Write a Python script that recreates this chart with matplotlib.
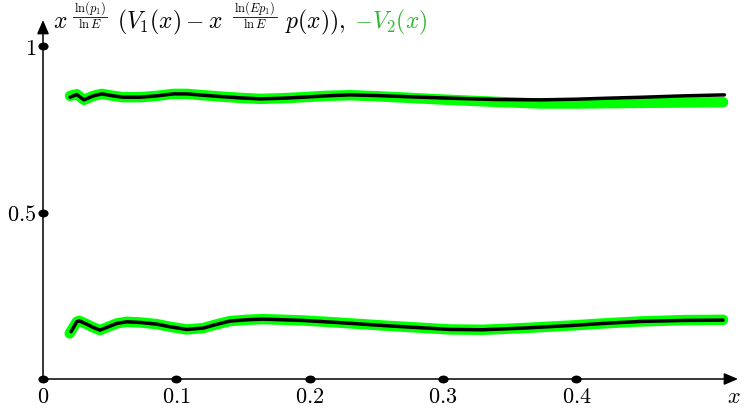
import matplotlib
matplotlib.use("Agg")
import matplotlib.pyplot as plt
from matplotlib.lines import Line2D
from matplotlib.path import Path
from matplotlib.transforms import Affine2D

plt.rcParams['mathtext.fontset'] = 'cm'
plt.rcParams['font.family'] = 'serif'
plt.rcParams['font.serif'] = ['DejaVu Serif']

# ---- data ----
upper_black_x = [0.0203, 0.0253, 0.0307, 0.0377, 0.044, 0.0528, 0.0602, 0.0727, 0.0853, 0.0977,
                 0.1077, 0.120, 0.133, 0.148, 0.163, 0.180, 0.195, 0.212, 0.230, 0.250, 0.270,
                 0.305, 0.340, 0.373, 0.400, 0.423, 0.450, 0.480, 0.511]
upper_black_y = [0.847, 0.855, 0.839, 0.851, 0.857, 0.851, 0.847, 0.847, 0.851, 0.857,
                 0.857, 0.853, 0.849, 0.845, 0.842, 0.844, 0.847, 0.851, 0.854, 0.852, 0.849,
                 0.844, 0.840, 0.839, 0.841, 0.844, 0.847, 0.851, 0.854]

upper_green_x = [0.0203, 0.0253, 0.0307, 0.0377, 0.044, 0.0528, 0.0602, 0.0727, 0.0853, 0.0977,
                 0.1077, 0.120, 0.133, 0.148, 0.163, 0.180, 0.195, 0.212, 0.230, 0.250, 0.270,
                 0.305, 0.340, 0.373, 0.400, 0.423, 0.450, 0.480, 0.510]
upper_green_y = [0.851, 0.856, 0.839, 0.851, 0.857, 0.851, 0.847, 0.847, 0.851, 0.857,
                 0.857, 0.853, 0.849, 0.845, 0.842, 0.844, 0.847, 0.851, 0.853, 0.850, 0.846,
                 0.839, 0.833, 0.828, 0.828, 0.829, 0.830, 0.831, 0.832]

lower_black_x = [0.021, 0.0253, 0.0272, 0.0327, 0.0377, 0.0427, 0.049, 0.0553, 0.0628, 0.0727,
                 0.0853, 0.0952, 0.1077, 0.120, 0.130, 0.140, 0.1527, 0.165, 0.195, 0.220,
                 0.258, 0.305, 0.330, 0.360, 0.397, 0.420, 0.448, 0.480, 0.510]
lower_black_y = [0.142, 0.172, 0.175, 0.165, 0.155, 0.147, 0.157, 0.167, 0.172, 0.170,
                 0.165, 0.157, 0.149, 0.153, 0.164, 0.174, 0.178, 0.180, 0.176, 0.170,
                 0.160, 0.149, 0.148, 0.153, 0.161, 0.167, 0.173, 0.176, 0.177]

lower_green_x = [0.020, 0.0253, 0.0272, 0.0327, 0.0377, 0.0427, 0.049, 0.0553, 0.0628, 0.0727,
                 0.0853, 0.0952, 0.1077, 0.120, 0.130, 0.140, 0.1527, 0.165, 0.195, 0.220,
                 0.258, 0.305, 0.330, 0.360, 0.397, 0.420, 0.448, 0.480, 0.510]
lower_green_y = [0.137, 0.172, 0.175, 0.165, 0.155, 0.147, 0.157, 0.167, 0.172, 0.170,
                 0.165, 0.157, 0.149, 0.153, 0.164, 0.174, 0.178, 0.180, 0.176, 0.170,
                 0.160, 0.149, 0.148, 0.153, 0.161, 0.167, 0.173, 0.177, 0.178]

x_ticks = [0, 0.1, 0.2, 0.3, 0.4]
x_tick_labels = ['$0$', '$0.1$', '$0.2$', '$0.3$', '$0.4$']
y_ticks = [0.5, 1]
y_tick_labels = ['$0.5$', '$1$']

W, H = 747, 409
fig = plt.figure(figsize=(W / 100, H / 100), dpi=100)
ax = fig.add_axes([43 / W, 1 - 379 / H, (738 - 43) / W, (379 - 20) / H])
xmax = (738 - 43) / 1333.5
ymax = (379 - 20) / 332.7
ax.set_xlim(0, xmax)
ax.set_ylim(0, ymax)
for s in ax.spines.values():
    s.set_visible(False)

green = '#00ff00'
for xs, ys in [(upper_green_x, upper_green_y), (lower_green_x, lower_green_y)]:
    ax.plot(xs, ys, color=green, lw=7.5, solid_capstyle='round',
            solid_joinstyle='round', zorder=3)
for xs, ys in [(upper_black_x, upper_black_y), (lower_black_x, lower_black_y)]:
    ax.plot(xs, ys, color='black', lw=2.5, solid_capstyle='round',
            solid_joinstyle='round', zorder=4)

arrow = dict(arrowstyle='-|>,head_length=0.7,head_width=0.3', lw=1.1, color='black',
             shrinkA=0, shrinkB=0, mutation_scale=12)
ax.annotate('', xy=(xmax, 0), xytext=(0, 0), arrowprops=arrow, annotation_clip=False)
ax.annotate('', xy=(0, ymax), xytext=(0, 0), arrowprops=arrow, annotation_clip=False)

# slightly wide dots, as in the reference
ellipse = Path.unit_circle().transformed(Affine2D().scale(1.35, 1.0))
ax.plot(x_ticks, [0] * len(x_ticks), linestyle='none', marker=ellipse, color='black',
        ms=6.3, clip_on=False, zorder=5)
ax.plot([0] * len(y_ticks), y_ticks, linestyle='none', marker=ellipse, color='black',
        ms=6.3, clip_on=False, zorder=5)

ax.set_xticks(x_ticks)
ax.set_xticklabels(x_tick_labels, fontsize=16)
ax.set_yticks(y_ticks)
ax.set_yticklabels(y_tick_labels, fontsize=16)
ax.tick_params(length=0, pad=5)

ax.text(xmax - 0.003, -0.022, '$x$', fontsize=16, ha='center', va='top')

# ---- title built from pieces (pixel positions, top-left origin) ----
def put(s, x, base, size, color='black', ha='left'):
    return fig.text(x / W, 1 - base / H, s, fontsize=size, color=color,
                    ha=ha, va='baseline')

MAIN = 17
FR = 9
BASE = 28.5
put(r'$x$', 53, BASE, MAIN)
put(r'$(V_1(x)-x$', 117, BASE, MAIN)
put(r'$p(x)),$', 285, BASE, MAIN)
put(r'$-V_2(x)$', 354, BASE, MAIN, color='#2eb82e')

fracs = [(90, r'$\ln(p_1)$', r'$\ln E$'), (255, r'$\ln(Ep_1)$', r'$\ln E$')]
nums = []
for cx, num, den in fracs:
    nums.append((cx, put(num, cx, 12.0, FR, ha='center')))
    put(den, cx, 28.0, FR, ha='center')
fig.canvas.draw()
for cx, t in nums:
    w = t.get_window_extent().width
    fig.add_artist(Line2D([(cx - w / 2 - 1) / W, (cx + w / 2 + 1) / W],
                          [1 - 16.5 / H, 1 - 16.5 / H], transform=fig.transFigure,
                          color='black', lw=0.6))

fig.savefig('out.png', dpi=100)
